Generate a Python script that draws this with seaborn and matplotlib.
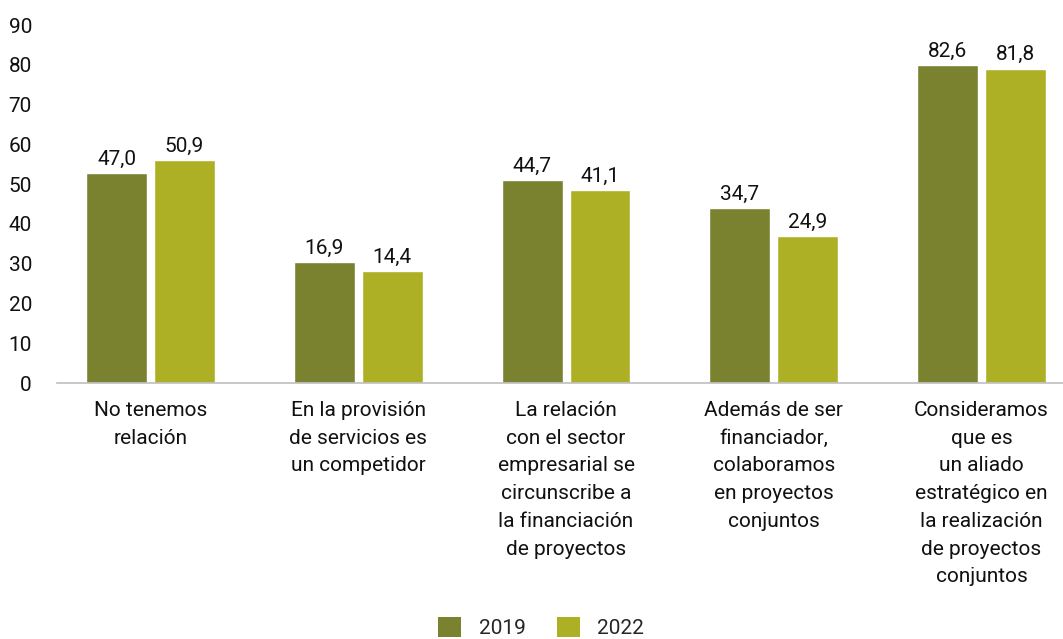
import matplotlib
matplotlib.use("Agg")
import matplotlib.pyplot as plt
import seaborn as sns
import pandas as pd
from matplotlib.patches import Patch

categories = [
    "No tenemos\nrelación",
    "En la provisión\nde servicios es\nun competidor",
    "La relación\ncon el sector\nempresarial se\ncircunscribe a\nla financiación\nde proyectos",
    "Además de ser\nfinanciador,\ncolaboramos\nen proyectos\nconjuntos",
    "Consideramos\nque es\nun aliado\nestratégico en\nla realización\nde proyectos\nconjuntos",
]
years = ["2019", "2022"]
# bar heights as drawn on the axis
heights_2019 = [52.8, 30.4, 51.0, 44.0, 79.9]
heights_2022 = [56.0, 28.1, 48.5, 36.9, 79.1]
# value labels printed above bars
labels_2019 = ["47,0", "16,9", "44,7", "34,7", "82,6"]
labels_2022 = ["50,9", "14,4", "41,1", "24,9", "81,8"]
yticks = [0, 10, 20, 30, 40, 50, 60, 70, 80, 90]
colors = ["#7A8230", "#ADB024"]

df = pd.DataFrame({
    "cat": categories * 2,
    "year": [years[0]] * 5 + [years[1]] * 5,
    "val": heights_2019 + heights_2022,
})

sns.set_theme(style="white")
plt.rcParams["font.family"] = ["Roboto", "DejaVu Sans"]
FS = 15

fig = plt.figure(figsize=(10.63, 6.39), dpi=100)
ax = fig.add_axes([0.0536, 0.4006, 0.9464, 0.56])
sns.barplot(data=df, x="cat", y="val", hue="year", palette=colors,
            width=0.654, gap=0.103, saturation=1, ax=ax, legend=False)

for cont, labs in zip(ax.containers, [labels_2019, labels_2022]):
    ax.bar_label(cont, labels=labs, padding=3, fontsize=FS, color="#111111")

ax.set_ylim(0, 90)
ax.set_xlim(-0.45, 4.392)
ax.set_yticks(yticks)
ax.set_yticklabels([str(t) for t in yticks], fontsize=FS, color="#111111")
ax.tick_params(axis="y", length=0, pad=18)
ax.tick_params(axis="x", length=0, pad=13)
ax.set_xticks(range(5))
ax.set_xticklabels(categories, fontsize=FS, color="#111111", linespacing=1.58, va="top")
ax.set_xlabel("")
ax.set_ylabel("")
for s in ["top", "right", "left"]:
    ax.spines[s].set_visible(False)
ax.spines["bottom"].set_color("#BFBFBF")
ax.spines["bottom"].set_linewidth(1.2)

handles = [Patch(facecolor=c, edgecolor="none") for c in colors]
fig.legend(handles, years, loc="center", bbox_to_anchor=(0.509, 0.018), ncol=2,
           frameon=False, fontsize=FS, handlelength=1.1, handleheight=1.1,
           columnspacing=1.5, handletextpad=0.85)

fig.savefig("out.png", dpi=100)
